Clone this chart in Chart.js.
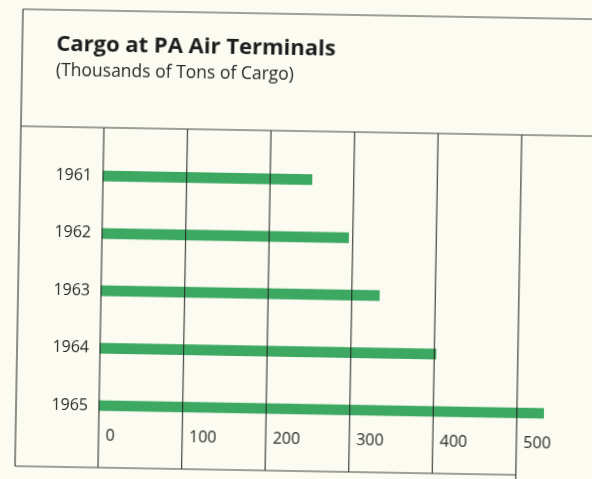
<!DOCTYPE html>
<html>
<head>
<meta charset="utf-8">
<title>Cargo at PA Air Terminals</title>
<script src="https://cdn.jsdelivr.net/npm/chart.js@4.4.1/dist/chart.umd.min.js"></script>
<style>
  html, body { margin: 0; padding: 0; background: #fbfbf2; overflow: hidden; }
  #wrap { width: 592px; height: 479px; }
  /* the printed page was scanned a little crooked */
  #cargoChart { transform: rotate(1deg); }
</style>
</head>
<body>
<div id="wrap"><canvas id="cargoChart" width="592" height="479"></canvas></div>
<script>
const years = ['1961', '1962', '1963', '1964', '1965'];
const cargoTons = [250, 295, 333, 402, 532];
const tickValues = [0, 100, 200, 300, 400, 500];
const titleText = 'Cargo at PA Air Terminals';
const subtitleText = '(Thousands of Tons of Cargo)';

document.addEventListener('DOMContentLoaded', function () {
    Chart.defaults.font.family = '"Open Sans", Lato, sans-serif';

    // frame of the printed table, and the grid lines running from the header rule to the bottom
    const marcoTabla = {
        id: 'marcoTabla',
        afterDatasetsDraw(chart) {
            const ctx = chart.ctx;
            const x = chart.scales.x;
            const top = 14, rule = 131, bottom = 471, left = 19;
            const last = tickValues[tickValues.length - 1];
            ctx.save();
            ctx.strokeStyle = 'rgba(35, 35, 35, 0.85)';
            ctx.lineWidth = 1.2;
            ctx.beginPath();
            ctx.moveTo(left, top); ctx.lineTo(chart.width, top);
            ctx.moveTo(left, top); ctx.lineTo(left, bottom);
            ctx.moveTo(left, rule); ctx.lineTo(chart.width, rule);
            ctx.moveTo(left, bottom); ctx.lineTo(x.getPixelForValue(last), bottom);
            tickValues.forEach(v => {
                const px = x.getPixelForValue(v);
                ctx.moveTo(px, rule);
                // the last line runs on past the bottom rule
                ctx.lineTo(px, v === last ? chart.height : bottom);
            });
            ctx.stroke();
            ctx.restore();
        }
    };

    new Chart(document.getElementById('cargoChart'), {
        type: 'bar',
        data: {
            labels: years,
            datasets: [{
                data: cargoTons,
                backgroundColor: '#3da862',
                borderWidth: 0,
                barThickness: 10,
                clip: false
            }]
        },
        options: {
            indexAxis: 'y',
            responsive: false,
            animation: false,
            layout: { padding: { left: 53, right: 22, top: 36, bottom: 25 } },
            plugins: {
                legend: { display: false },
                tooltip: { enabled: false },
                title: {
                    display: true,
                    text: titleText,
                    align: 'start',
                    color: '#1d1d1d',
                    font: { size: 22, weight: 'bold' },
                    padding: { top: 0, bottom: 2 }
                },
                subtitle: {
                    display: true,
                    text: subtitleText,
                    align: 'start',
                    color: '#2a2a2a',
                    font: { size: 17.5 },
                    padding: { top: 0, bottom: 94 }
                }
            },
            scales: {
                x: {
                    min: 0,
                    max: 560,
                    afterBuildTicks: scale => { scale.ticks = tickValues.map(v => ({ value: v })); },
                    afterFit: scale => { scale.height = 45; },
                    grid: { display: false, drawTicks: false },
                    border: { display: false },
                    ticks: { align: 'start', labelOffset: 7, padding: 21, color: '#2a2a2a', font: { size: 16 } }
                },
                y: {
                    offset: false,
                    afterFit: scale => { scale.width = 49; },
                    grid: { display: false, drawTicks: false },
                    border: { display: false },
                    ticks: { padding: 11, color: '#2a2a2a', font: { size: 16 } }
                }
            }
        },
        plugins: [marcoTabla]
    });
});
</script>
</body>
</html>
